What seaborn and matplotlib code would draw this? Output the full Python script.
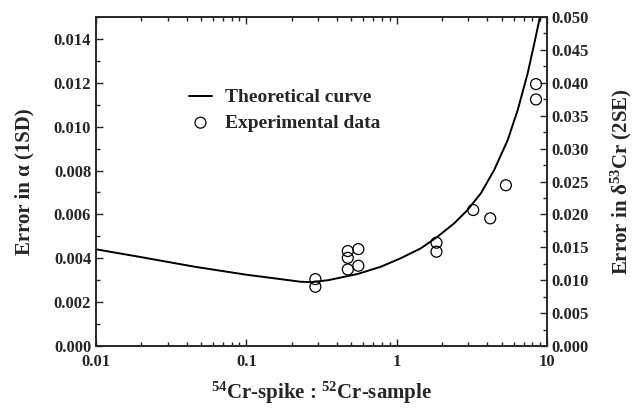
import numpy as np
import pandas as pd
import matplotlib
matplotlib.use("Agg")
import matplotlib.pyplot as plt
from matplotlib.ticker import FixedLocator, MultipleLocator, FuncFormatter, LogLocator, NullFormatter
import seaborn as sns

# Theoretical curve
curve_x = [0.01, 0.02, 0.0457, 0.1, 0.16, 0.229, 0.27, 0.35, 0.547, 0.782, 1.063, 1.445,
           1.867, 2.41, 2.96, 3.63, 4.45, 5.47, 6.38, 7.43, 8.23, 8.88, 9.3]
curve_y = [0.00441, 0.00405, 0.00361, 0.00325, 0.00307, 0.00293, 0.00291, 0.00300, 0.00328,
           0.00361, 0.00400, 0.00445, 0.00498, 0.00559, 0.00620, 0.00696, 0.00802, 0.00938,
           0.01075, 0.01242, 0.01379, 0.01485, 0.0157]

# Experimental data
exp_x = [0.288, 0.288, 0.473, 0.473, 0.473, 0.556, 0.556, 1.84, 1.84, 3.23, 4.19, 5.33, 8.45, 8.45]
exp_y = [0.00305, 0.0027, 0.00433, 0.00402, 0.00349, 0.00442, 0.00366, 0.00471, 0.0043,
         0.0062, 0.00582, 0.00733, 0.01194, 0.01124]

x_ticks = [0.01, 0.1, 1, 10]
x_tick_labels = ["0.01", "0.1", "1", "10"]

sns.set_style("ticks")
plt.rcParams['font.family'] = ['Liberation Serif', 'DejaVu Serif']
plt.rcParams['font.weight'] = 'bold'
plt.rcParams['mathtext.default'] = 'regular'

fig = plt.figure(figsize=(6.36, 4.08), dpi=100)
ax = fig.add_axes([96/636, 62/408, 451/636, 329/408])

curve_df = pd.DataFrame({"x": curve_x, "y": curve_y})
exp_df = pd.DataFrame({"x": exp_x, "y": exp_y})

sns.lineplot(data=curve_df, x="x", y="y", ax=ax, color="black", lw=1.4,
             label="Theoretical curve")
sns.scatterplot(data=exp_df, x="x", y="y", ax=ax, marker="o", s=62,
                facecolor="none", edgecolor="black", linewidth=0.9,
                label="Experimental data")

ax.set_xscale("log")
ax.set_xlim(0.01, 10)
ax.set_ylim(0, 0.015)
ax.xaxis.set_major_locator(FixedLocator(x_ticks))
ax.xaxis.set_major_formatter(FuncFormatter(lambda v, p: x_tick_labels[x_ticks.index(v)] if v in x_ticks else ""))
ax.xaxis.set_minor_locator(LogLocator(base=10, subs=np.arange(2, 10)))
ax.xaxis.set_minor_formatter(NullFormatter())
ax.yaxis.set_major_locator(MultipleLocator(0.002))
ax.yaxis.set_minor_locator(MultipleLocator(0.001))
ax.yaxis.set_major_formatter(FuncFormatter(lambda v, p: f"{v:.3f}"))

ax.tick_params(axis="both", which="both", direction="in", labelsize=12)
ax.tick_params(axis="x", which="both", top=True)
ax.tick_params(axis="x", which="major", pad=6)
ax.tick_params(which="major", length=5, width=1)
ax.tick_params(which="minor", length=3, width=1)
for s in ax.spines.values():
    s.set_linewidth(1.2)
    s.set_visible(True)

ax.set_xlabel("$^{54}$Cr-spike : $^{52}$Cr-sample", fontsize=15, fontweight="bold", labelpad=7)
ax.set_ylabel("Error in α (1SD)", fontsize=15, fontweight="bold", labelpad=14)

ax2 = ax.twinx()
ax2.set_ylim(0, 0.05)
ax2.yaxis.set_major_locator(MultipleLocator(0.005))
ax2.yaxis.set_minor_locator(MultipleLocator(0.0025))
ax2.yaxis.set_major_formatter(FuncFormatter(lambda v, p: f"{v:.3f}"))
ax2.tick_params(axis="y", which="both", direction="in", labelsize=12)
ax2.tick_params(which="major", length=5, width=1)
ax2.tick_params(which="minor", length=3, width=1)
ax2.set_ylabel("Error in δ$^{53}$Cr (2SE)", fontsize=15, fontweight="bold", labelpad=14)
for s in ax2.spines.values():
    s.set_linewidth(1.2)

leg = ax.legend(loc="upper left", bbox_to_anchor=(0.167, 0.835), frameon=False,
                prop={"family": "Liberation Serif", "weight": "bold", "size": 14},
                handlelength=1.2, handletextpad=0.65, labelspacing=0.4)

for lab in ax.get_xticklabels() + ax.get_yticklabels() + ax2.get_yticklabels():
    lab.set_fontweight("bold")

fig.savefig("out.png", dpi=100)
